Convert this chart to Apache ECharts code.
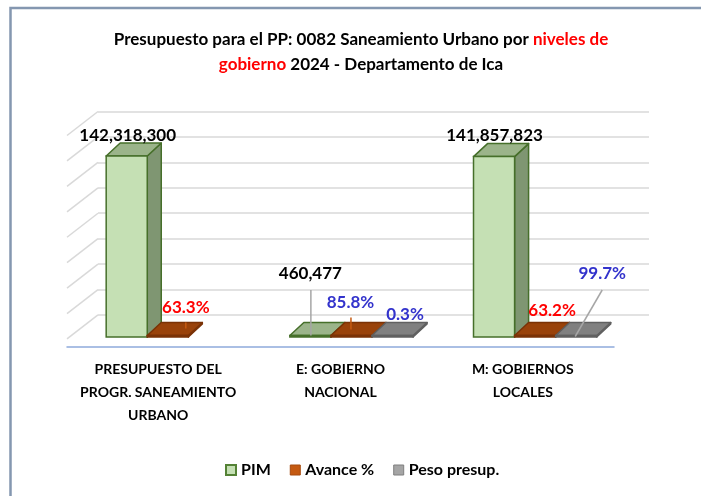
<!DOCTYPE html>
<html><head><meta charset="utf-8">
<script src="https://cdn.jsdelivr.net/npm/echarts@6/dist/echarts.min.js"></script>
<style>html,body{margin:0;padding:0;background:#fff}#c{width:701px;height:496px}</style>
</head><body><div id="c"></div>
<script>
const categories = ['PRESUPUESTO DEL\nPROGR. SANEAMIENTO\nURBANO', 'E: GOBIERNO\nNACIONAL', 'M: GOBIERNOS\nLOCALES'];
const pim = [142318300, 460477, 141857823];
const avance = [63.3, 85.8, 63.2];
const peso = [null, 0.3, 99.7];
const seriesNames = ['PIM', 'Avance %', 'Peso presup.'];
const yMax = 180000000, yStep = 20000000;

const FONT = 'Lato';
const BAR_FRAC = 41 / 183.33;
const GROUP_SHIFT = -22 / 183.33;
const FRONT_DY = -3.4;
const DEPTH_X = 14, DEPTH_Y = 13;
const MIN_H = 1.5;

const styles = [
  {front: '#C5E0B4', top: '#9BB48A', side: '#7F9672', stroke: '#466F2A'},
  {front: '#A9490C', top: '#99420A', side: '#7E3508', stroke: '#7A3206'},
  {front: '#8A8A8A', top: '#808080', side: '#6E6E6E', stroke: '#606060'}
];
// label placement relative to bar front-top centre, per series per category
const labelPos = [
  [[1, -21], [0, -61.5], [0.5, -21.5]],
  [[18, -27.5], [-1, -32.5], [17, -24.5]],
  [null, [12.5, -20.5], [26, -61.5]]
];
const labelColors = [
  ['#000', '#000', '#000'],
  ['#FF0000', '#3333CC', '#FF0000'],
  ['#3333CC', '#3333CC', '#3333CC']
];
// leader lines: [fromDx, fromDy, toDx, toDy] relative to bar front-top centre
const leaders = [
  [null, [0.5, -45.5, 0.5, 0], null],
  [[18, -13, 18, -7], [-0.5, -18, -0.5, -6], null],
  [null, null, [26, -45.5, -1, 1]]
];
const leaderColors = ['#A6A6A6', '#C55A11', '#A6A6A6'];

function fmt(si, v) {
  if (si === 0) return v.toLocaleString('en-US');
  return v.toFixed(1) + '%';
}

function barRender(si) {
  return function (params, api) {
    const ci = api.value(0), v = api.value(1);
    if (v == null || isNaN(v)) return;
    const band = api.size([1, 0])[0];
    const w = band * BAR_FRAC;
    const c = api.coord([ci, 0]);
    const gx = c[0] + GROUP_SHIFT * band;
    const x0 = gx - 1.5 * w + si * w;
    const yb = c[1] + FRONT_DY;
    let yt = api.coord([ci, v])[1] + FRONT_DY;
    if (yb - yt < MIN_H) yt = yb - MIN_H;
    const s = styles[si];
    const lw = 1.5;
    const children = [
      {type: 'polygon', shape: {points: [[x0 + w, yt], [x0 + w + DEPTH_X, yt - DEPTH_Y], [x0 + w + DEPTH_X, yb - DEPTH_Y], [x0 + w, yb]]},
        style: {fill: s.side, stroke: s.stroke, lineWidth: lw, lineJoin: 'round'}},
      {type: 'polygon', shape: {points: [[x0, yt], [x0 + w, yt], [x0 + w + DEPTH_X, yt - DEPTH_Y], [x0 + DEPTH_X, yt - DEPTH_Y]]},
        style: {fill: s.top, stroke: s.stroke, lineWidth: lw, lineJoin: 'round'}},
      {type: 'rect', shape: {x: x0, y: yt, width: w, height: yb - yt},
        style: {fill: s.front, stroke: s.stroke, lineWidth: lw}}
    ];
    const cx = x0 + w / 2;
    const ld = leaders[si][ci];
    if (ld) {
      children.push({type: 'line', shape: {x1: cx + ld[0], y1: yt + ld[1], x2: cx + ld[2], y2: yt + ld[3]},
        style: {stroke: leaderColors[si], lineWidth: 1.5}});
    }
    const lp = labelPos[si][ci];
    if (lp) {
      children.push({type: 'text', x: cx + lp[0], y: yt + lp[1],
        style: {text: fmt(si, v), fill: labelColors[si][ci], font: 'bold 17px ' + FONT, align: 'center', verticalAlign: 'middle'}});
    }
    return {type: 'group', children: children};
  };
}

const wallTicks = [];
for (let t = yStep; t <= yMax; t += yStep) wallTicks.push([0, t]);

const chart = echarts.init(document.getElementById('c'), null, {renderer: 'canvas'});
chart.setOption({
  animation: false,
  backgroundColor: '#fff',
  graphic: [
    {type: 'polyline', shape: {points: [[10.5, 496], [10.5, 8], [710, 8]]}, style: {stroke: '#8497B0', lineWidth: 2.5, fill: null}},
    {type: 'text', x: 361, y: 27, style: {
      text: '{b|Presupuesto para el PP: 0082 Saneamiento Urbano por }{r|niveles de}\n{r|gobierno}{b| 2024 - Departamento de Ica}',
      align: 'center', verticalAlign: 'top', lineHeight: 25,
      rich: {
        b: {font: 'bold 17px ' + FONT, fill: '#000', lineHeight: 25, align: 'center'},
        r: {font: 'bold 17px ' + FONT, fill: '#FF0000', lineHeight: 25, align: 'center'}
      }}}
  ],
  legend: {
    left: 220, top: 457, itemWidth: 10, itemHeight: 10, itemGap: 19,
    textStyle: {fontFamily: FONT, fontWeight: 'bold', fontSize: 16, color: '#000'},
    data: [
      {name: 'PIM', icon: 'rect', itemStyle: {color: '#C5E0B4', borderColor: '#548235', borderWidth: 2}},
      {name: 'Avance %', icon: 'rect', itemStyle: {color: '#C55A11', borderColor: '#A64A0E', borderWidth: 1}},
      {name: 'Peso presup.', icon: 'rect', itemStyle: {color: '#A5A5A5', borderColor: '#7F7F7F', borderWidth: 1}}
    ]
  },
  grid: [
    {left: 98, right: 52, top: 111.5, bottom: 155.6},
    {left: 67, right: 87, top: 111.5, bottom: 149}
  ],
  xAxis: [
    {type: 'category', gridIndex: 0, data: categories, show: false},
    {type: 'category', gridIndex: 1, data: categories,
      axisLine: {lineStyle: {color: '#8FAADC', width: 1.5}}, axisTick: {show: false},
      axisLabel: {interval: 0, margin: 11, fontFamily: FONT, fontWeight: 'bold', fontSize: 14, color: '#000', lineHeight: 23}}
  ],
  yAxis: [
    {type: 'value', gridIndex: 0, min: 0, max: yMax, interval: yStep,
      axisLine: {show: false}, axisTick: {show: false}, axisLabel: {show: false},
      splitLine: {show: true, showMinLine: false, lineStyle: {color: '#D9D9D9', width: 1.5}}},
    {type: 'value', gridIndex: 1, min: 0, max: yMax, show: false, splitLine: {show: false}}
  ],
  series: [
    {type: 'custom', name: '_wall', xAxisIndex: 0, yAxisIndex: 0, silent: true, clip: false,
      encode: {x: 0, y: 1}, data: wallTicks,
      renderItem: function (params, api) {
        const y = api.coord([0, api.value(1)])[1];
        const x = params.coordSys.x;
        return {type: 'line', shape: {x1: x, y1: y, x2: x - 31, y2: y + 24}, style: {stroke: '#D9D9D9', lineWidth: 1.5}};
      }},
    {type: 'custom', name: 'PIM', xAxisIndex: 0, yAxisIndex: 0, clip: false, encode: {x: 0, y: 1},
      data: pim.map((v, i) => [i, v]), renderItem: barRender(0)},
    {type: 'custom', name: 'Avance %', xAxisIndex: 0, yAxisIndex: 0, clip: false, encode: {x: 0, y: 1},
      data: avance.map((v, i) => [i, v]), renderItem: barRender(1)},
    {type: 'custom', name: 'Peso presup.', xAxisIndex: 0, yAxisIndex: 0, clip: false, encode: {x: 0, y: 1},
      data: peso.map((v, i) => [i, v == null ? '-' : v]), renderItem: barRender(2)}
  ]
});
</script></body></html>
